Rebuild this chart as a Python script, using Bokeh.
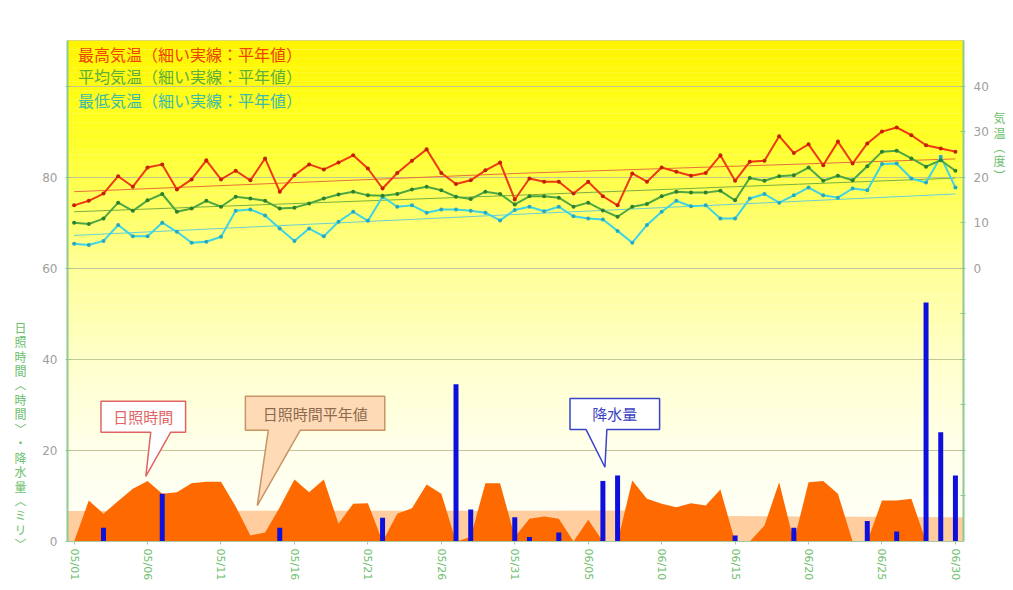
import pandas as pd
from bokeh.plotting import figure
from bokeh.models import Range1d, LinearAxis, FixedTicker, Label
from bokeh.embed import file_html
from bokeh.resources import INLINE

# ---------------- data ----------------
dates = [d.strftime("%m/%d") for d in pd.date_range("2021-05-01", "2021-06-30")]
days = list(range(len(dates)))

tmax = [13.8, 14.8, 16.4, 20.2, 17.9, 22.1, 22.8, 17.3, 19.5, 23.7,
        19.5, 21.4, 19.3, 24.1, 16.8, 20.4, 22.8, 21.7, 23.2, 24.8,
        21.9, 17.5, 20.9, 23.6, 26.1, 20.9, 18.5, 19.3, 21.5, 23.2,
        15.1, 19.7, 19.0, 19.0, 16.4, 19.0, 15.8, 13.8, 20.8, 19.0,
        22.1, 21.2, 20.3, 20.9, 24.8, 19.2, 23.4, 23.6, 29.0, 25.3,
        27.2, 22.6, 27.8, 23.0, 27.4, 30.0, 30.9, 29.2, 27.0, 26.3, 25.6]
tmean = [10.0, 9.7, 10.9, 14.4, 12.6, 14.9, 16.3, 12.4, 13.1, 14.8,
         13.5, 15.7, 15.3, 14.8, 13.1, 13.3, 14.2, 15.3, 16.2, 16.8,
         16.0, 15.9, 16.3, 17.3, 17.9, 17.1, 15.7, 15.2, 16.8, 16.3,
         14.0, 15.8, 15.8, 15.5, 13.5, 14.4, 12.7, 11.3, 13.5, 14.1,
         15.8, 16.8, 16.6, 16.6, 17.0, 14.9, 19.8, 19.2, 20.2, 20.4,
         22.1, 19.2, 20.3, 19.3, 22.4, 25.6, 25.8, 24.1, 22.3, 23.7, 21.4]
tmin = [5.4, 5.1, 6.0, 9.5, 7.0, 7.0, 10.0, 8.0, 5.6, 5.8,
        6.9, 12.6, 12.9, 11.6, 8.7, 6.0, 8.7, 7.0, 10.2, 12.4,
        10.4, 15.7, 13.5, 13.8, 12.2, 12.9, 12.9, 12.6, 12.2, 10.5,
        12.8, 13.5, 12.5, 13.5, 11.4, 10.9, 10.7, 8.2, 5.6, 9.5,
        12.4, 14.8, 13.6, 13.8, 10.9, 10.9, 15.3, 16.3, 14.4, 16.0,
        17.7, 16.0, 15.5, 17.5, 17.1, 22.9, 23.0, 19.7, 18.8, 24.5, 17.7]
sun = [0, 9.0, 6.1, 8.9, 11.6, 13.3, 10.5, 10.8, 12.8, 13.1,
       13.1, 7.7, 1.3, 2.0, 7.5, 13.6, 10.8, 13.6, 3.9, 8.3,
       8.4, 0, 6.1, 7.3, 12.5, 10.5, 0, 1.0, 12.8, 12.8,
       1.0, 5.0, 5.5, 5.0, 0, 4.8, 0, 0, 13.4, 9.4,
       8.3, 7.5, 8.4, 7.9, 11.4, 0, 0, 3.5, 13.0, 0,
       13.0, 13.3, 10.5, 0, 0, 9.0, 9.0, 9.4, 0, 0, 0]
rain = [0, 0, 3.0, 0, 0, 0, 10.5, 0, 0, 0,
        0, 0, 0, 0, 3.0, 0, 0, 0, 0, 0,
        0, 5.2, 0, 0, 0, 0, 34.5, 7.0, 0, 0,
        5.3, 1.0, 0, 2.0, 0, 0, 13.3, 14.5, 0, 0,
        0, 0, 0, 0, 0, 1.3, 0, 0, 0, 3.0,
        0, 0, 0, 0, 4.5, 0, 2.2, 0, 52.5, 24.0, 14.5]

# normals (平年値) read at a few dates
norm_days = [0, 30, 60]
norm_tmax = [16.8, 20.8, 24.0]
norm_tmean = [12.4, 16.0, 19.8]
norm_tmin = [7.2, 11.8, 16.3]
norm_sun_days = [0, 39, 44, 60]
norm_sun = [6.7, 6.8, 5.6, 5.3]

tick_days = list(range(0, 61, 5))
left_ticks = [0, 20, 40, 60, 80, 100]
right_ticks = [-50, -40, -30, -20, -10, 0, 10, 20, 30, 40]

left_title = "日照時間︿時間﹀・降水量︿ミリ﹀"
right_title = "気温︵度︶"

JP = "Noto Sans CJK JP"
NUM = "DejaVu Sans"

# ---------------- figure ----------------
X0, X1 = -0.45, 60.55
p = figure(width=1008, height=588, output_backend="svg", toolbar_location=None,
           x_range=Range1d(X0, X1), y_range=Range1d(0, 110),
           min_border_left=67, min_border_right=43, min_border_top=40,
           min_border_bottom=47)
p.extra_y_ranges = {"temp": Range1d(-60, 50)}
p.background_fill_color = "white"
p.border_fill_color = "white"
p.outline_line_color = "#C8C8B4"
p.xgrid.grid_line_color = None
p.ygrid.grid_line_color = "#C2C79A"
p.ygrid.grid_line_width = 1

# gradient background (style only)
N = 110
bots, tops, cols = [], [], []
def lerp(stops, t):
    for (t0, v0), (t1, v1) in zip(stops, stops[1:]):
        if t <= t1:
            return v0 + (v1 - v0) * (t - t0) / (t1 - t0)
    return stops[-1][1]
gstops = [(0, 244), (0.15, 255), (1, 255)]
bstops = [(0, 0), (0.2, 40), (0.45, 150), (0.65, 205), (0.82, 235), (1.0, 248)]
for i in range(N):
    b = 110 * i / N
    t_ = 110 * (i + 1) / N
    frac = 1 - (b + t_) / 2 / 110
    g = int(round(lerp(gstops, frac)))
    bl = int(round(lerp(bstops, frac)))
    bots.append(b); tops.append(t_ + 0.05); cols.append("#%02x%02x%02x" % (255, g, bl))
bg = p.quad(left=X0, right=X1, bottom=bots, top=tops, fill_color=cols, line_color=None)
bg.level = "image"

# sunshine normal band (extend to frame edges)
ns_x = [X0] + norm_sun_days + [X1]
ns_y = [norm_sun[0]] + norm_sun + [norm_sun[-1]]
p.varea(x=ns_x, y1=[0] * len(ns_x), y2=ns_y, fill_color="#FFC48E", fill_alpha=0.85)

# sunshine area
p.varea(x=days, y1=[0] * len(days), y2=sun, fill_color="#FF6A00")

# rain bars
rx = [d for d, r in zip(days, rain) if r > 0]
ry = [r for r in rain if r > 0]
p.vbar(x=rx, top=ry, width=0.34, fill_color="#1010DD", line_color=None)

# temperature normals
p.line(norm_days, norm_tmax, y_range_name="temp", line_color="#E8703A", line_width=1)
p.line(norm_days, norm_tmean, y_range_name="temp", line_color="#78B040", line_width=1)
p.line(norm_days, norm_tmin, y_range_name="temp", line_color="#6CCFD0", line_width=1)

# temperature series
p.line(days, tmin, y_range_name="temp", line_color="#3FD3E6", line_width=2)
p.scatter(days, tmin, y_range_name="temp", size=4, fill_color="#27A9C0", line_color=None)
p.line(days, tmean, y_range_name="temp", line_color="#4DA843", line_width=2)
p.scatter(days, tmean, y_range_name="temp", size=4, fill_color="#2E7F2E", line_color=None)
p.line(days, tmax, y_range_name="temp", line_color="#EE3A10", line_width=2)
p.scatter(days, tmax, y_range_name="temp", size=4, fill_color="#C42000", line_color=None)

# ---------------- axes ----------------
xa = p.xaxis[0]
xa.ticker = FixedTicker(ticks=tick_days)
xa.major_label_overrides = {d: dates[d] for d in tick_days}
xa.major_label_orientation = "vertical"
xa.major_label_text_font = NUM
xa.major_label_text_font_size = "11px"
xa.major_label_text_color = "#6DBE6D"
xa.axis_line_color = "#A8C8A0"
xa.major_tick_line_color = "#A8C8A0"
xa.major_tick_out = 3
xa.major_tick_in = 0
xa.minor_tick_line_color = None
xa.major_label_standoff = 4

ya = p.yaxis[0]
ya.ticker = FixedTicker(ticks=left_ticks)
ya.major_label_overrides = {100: ""}
ya.major_label_text_font = NUM
ya.major_label_text_font_size = "12px"
ya.major_label_text_color = "#A0A0A0"
ya.axis_line_color = "#8FC98F"
ya.axis_line_width = 2
ya.major_tick_line_color = "#8FC98F"
ya.major_tick_in = 3
ya.major_tick_out = 2
ya.minor_tick_line_color = None
ya.major_label_standoff = 8

ra = LinearAxis(y_range_name="temp", ticker=FixedTicker(ticks=right_ticks))
ra.major_label_overrides = {t: "" for t in right_ticks if t < 0}
ra.major_label_text_font = NUM
ra.major_label_text_font_size = "12px"
ra.major_label_text_color = "#A0A0A0"
ra.axis_line_color = "#8FC98F"
ra.axis_line_width = 2
ra.major_tick_line_color = "#8FC98F"
ra.major_tick_in = 3
ra.major_tick_out = 2
ra.minor_tick_line_color = None
ra.major_label_standoff = 8
p.add_layout(ra, "right")

# title-only axes (vertical writing, upright characters); padding lines shift
# the stacked block along the axis
PAD = "\u3000"
def title_axis(lines, standoff, rng=None):
    kw = {} if rng is None else {"y_range_name": rng}
    ax = LinearAxis(ticker=FixedTicker(ticks=[]), **kw)
    ax.axis_line_color = None
    ax.major_tick_line_color = None
    ax.minor_tick_line_color = None
    ax.major_label_text_font_size = "0px"
    ax.axis_label = "\n".join(lines)
    ax.axis_label_orientation = "horizontal"
    ax.axis_label_text_font = JP
    ax.axis_label_text_font_size = "12px"
    ax.axis_label_text_font_style = "normal"
    ax.axis_label_text_line_height = 0.85
    ax.axis_label_text_color = "#6DBE6D"
    ax.axis_label_standoff = standoff
    return ax

p.add_layout(title_axis([PAD] * 20 + list(left_title), 13), "left")
p.add_layout(title_axis(list(right_title) + [PAD] * 20, 2, "temp"), "right")

# ---------------- texts ----------------
legend_items = [("最高気温（細い実線：平年値）", "#EE4400", 107.1),
                ("平均気温（細い実線：平年値）", "#5DAE3A", 102.1),
                ("最低気温（細い実線：平年値）", "#3DBBA8", 96.9)]
for txt, col, yv in legend_items:
    p.add_layout(Label(x=0.27, y=yv, text=txt, text_color=col, text_font=JP,
                       text_font_size="16px", text_baseline="middle"))

# callouts
callouts = [
    ("日照時間", "#FFFFFF", "#E06464", "#E06464",
     [1.83, 7.59, 7.59, 6.58, 4.88, 5.22, 1.83],
     [30.8, 30.8, 24.0, 24.0, 14.3, 24.0, 24.0], 4.71, 27.4),
    ("日照時間平年値", "#FFDAB6", "#C89466", "#8C6A50",
     [11.66, 21.15, 21.15, 15.39, 12.47, 13.22, 11.66],
     [31.9, 31.9, 24.4, 24.4, 7.9, 24.4, 24.4], 16.41, 28.1),
    ("降水量", "#FFFFFF", "#3A44C8", "#3A44C0",
     [33.76, 39.86, 39.86, 36.27, 36.14, 34.85, 33.76],
     [31.4, 31.4, 24.6, 24.6, 16.3, 24.6, 24.6], 36.81, 28.0),
]
for txt, fc, lc, tc, xs, ys, tx, ty in callouts:
    p.patch(xs, ys, fill_color=fc, line_color=lc, line_width=1.5)
    p.add_layout(Label(x=tx, y=ty, text=txt, text_color=tc, text_font=JP,
                       text_font_size="15px", text_align="center", text_baseline="middle"))

open("out.html", "w").write(file_html(p, INLINE))
